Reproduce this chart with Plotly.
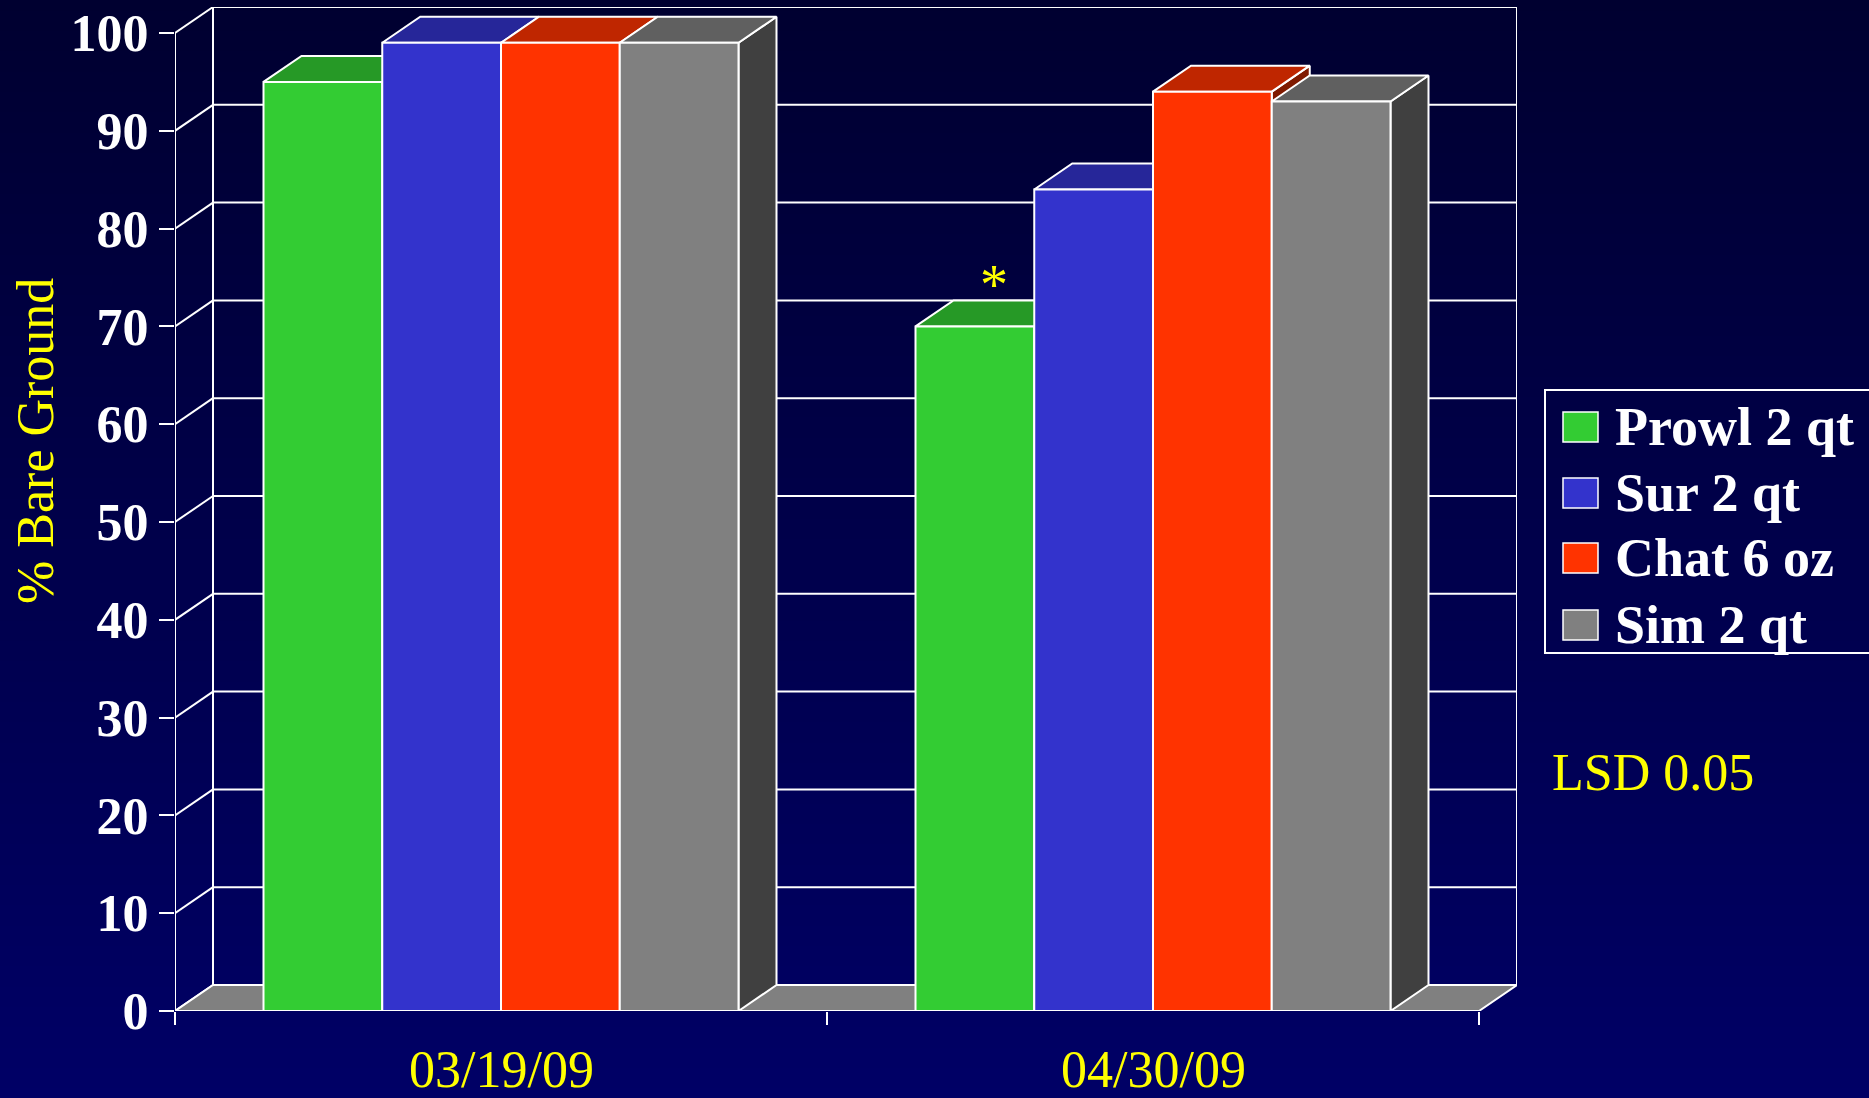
import plotly.graph_objects as go

# ---------------- data ----------------
dates = ["03/19/09", "04/30/09"]
series_names = ["Prowl 2 qt", "Sur 2 qt", "Chat 6 oz", "Sim 2 qt"]
prowl = [95, 70]
sur = [99, 84]
chat = [99, 94]
sim = [99, 93]
series_values = [prowl, sur, chat, sim]
y_ticks = [0, 10, 20, 30, 40, 50, 60, 70, 80, 90, 100]
y_title = "% Bare Ground"
note_text = "LSD 0.05"
signif = [(0, 1)]  # (series index, date index) marked with *

# ---------------- style ----------------
front_colors = ["#33CC33", "#3333CC", "#FF3300", "#808080"]
top_colors = ["#269926", "#262699", "#BF2600", "#606060"]
side_colors = ["#1A661A", "#1A1A66", "#801A00", "#404040"]
FLOOR = "#808080"
EDGE = "white"
BG_TOP = "rgb(0,0,48)"
BG_BOT = "rgb(0,0,102)"
FONT = "Liberation Serif"

W, H = 1869, 1098
XL, XR, YB, YT = 175, 1479, 1011, 33   # front plot frame in px
DPX, DPY = 38, 26                      # depth offset in px
xu = (XR - XL) / len(dates)
yu = (YB - YT) / 100.0
DX = DPX / xu
DY = DPY / yu
BW = 118.75 / xu

x_lo, x_hi = -0.5, len(dates) - 0.5
fig = go.Figure()

# background gradient (full page)
fig.add_trace(go.Heatmap(z=[[0, 0], [1, 1]], x=[0, 1], y=[0, 1], zsmooth="best",
                         colorscale=[[0, BG_BOT], [1, BG_TOP]], showscale=False,
                         hoverinfo="skip", xaxis="x", yaxis="y"))


def poly(xs, ys, fill=None, width=2):
    kw = dict(x=list(xs) + [xs[0]], y=list(ys) + [ys[0]], mode="lines",
              line=dict(color=EDGE, width=width), hoverinfo="skip",
              showlegend=False, xaxis="x2", yaxis="y2")
    if fill:
        kw.update(fill="toself", fillcolor=fill)
    fig.add_trace(go.Scatter(**kw))


def seg(xs, ys, width=2):
    fig.add_trace(go.Scatter(x=xs, y=ys, mode="lines", line=dict(color=EDGE, width=width),
                             hoverinfo="skip", showlegend=False, xaxis="x2", yaxis="y2"))


# back wall outline
poly([x_lo + DX, x_hi + DX, x_hi + DX, x_lo + DX], [DY, DY, 100 + DY, 100 + DY])
# gridlines on back wall and diagonals on side wall
for v in y_ticks:
    seg([x_lo + DX, x_hi + DX], [v + DY, v + DY])
    seg([x_lo, x_lo + DX], [v, v + DY])
# front axis line
seg([x_lo, x_lo], [0, 100])
# floor
poly([x_lo, x_hi, x_hi + DX, x_lo + DX], [0, 0, DY, DY], fill=FLOOR)

# bars
n = len(series_values)
for gi in range(len(dates)):
    for si in range(n):
        v = series_values[si][gi]
        L = gi - n * BW / 2 + si * BW
        R = L + BW
        poly([R, R, R + DX, R + DX], [0, v, v + DY, DY], fill=side_colors[si])
        poly([L, R, R + DX, L + DX], [v, v, v + DY, v + DY], fill=top_colors[si])
        poly([L, R, R, L], [0, 0, v, v], fill=front_colors[si])

annotations = []
for si, gi in signif:
    v = series_values[si][gi]
    cx = gi - n * BW / 2 + si * BW + BW / 2 + DX / 2
    annotations.append(dict(x=cx, y=v + DY + 1.6, xref="x2", yref="y2", text="*",
                            showarrow=False, yanchor="middle",
                            font=dict(family=FONT, size=56, color="yellow")))

# category labels
for gi, d in enumerate(dates):
    annotations.append(dict(x=gi, y=(H - 1069) / H, xref="x2", yref="paper", text=d,
                            showarrow=False, yanchor="middle", borderpad=0,
                            font=dict(family=FONT, size=52, color="yellow")))
# y title
annotations.append(dict(x=35 / W, y=(H - 441) / H, xref="paper", yref="paper", text=y_title,
                        textangle=-90, showarrow=False, xanchor="center", yanchor="middle",
                        font=dict(family=FONT, size=52, color="yellow")))
# LSD note
annotations.append(dict(x=1653 / W, y=(H - 773) / H, xref="paper", yref="paper", text=note_text,
                        showarrow=False, xanchor="center", yanchor="middle",
                        font=dict(family=FONT, size=52, color="yellow")))

# custom legend
shapes = [dict(type="rect", xref="paper", yref="paper", x0=1545 / W, x1=1890 / W,
               y0=(H - 653) / H, y1=(H - 390) / H, line=dict(color="white", width=2),
               fillcolor="rgba(0,0,0,0)")]
leg_tops = [412, 478, 543, 610]
for si, name in enumerate(series_names):
    t = leg_tops[si]
    shapes.append(dict(type="rect", xref="paper", yref="paper", x0=1563 / W, x1=1598 / W,
                       y0=(H - t - 30) / H, y1=(H - t) / H,
                       line=dict(color="white", width=1.5), fillcolor=front_colors[si]))
    annotations.append(dict(x=1613 / W, y=(H - t - 15) / H, xref="paper", yref="paper",
                            text=name, showarrow=False, xanchor="left", yanchor="middle",
                            font=dict(family=FONT, size=54, color="white", weight="bold")))

fig.update_layout(
    width=W, height=H, autosize=False, margin=dict(l=0, r=0, t=0, b=0, pad=0),
    paper_bgcolor=BG_BOT, plot_bgcolor="rgba(0,0,0,0)", showlegend=False,
    xaxis=dict(domain=[0, 1], range=[0, 1], visible=False, fixedrange=True, automargin=False),
    yaxis=dict(domain=[0, 1], range=[0, 1], visible=False, fixedrange=True, automargin=False),
    xaxis2=dict(domain=[XL / W, (XR + DPX) / W], anchor="y2", range=[x_lo, x_hi + DX],
                tickvals=[x_lo + i for i in range(len(dates) + 1)], ticks="outside", ticklen=13,
                tickwidth=2, tickcolor="white", showticklabels=False, showgrid=False,
                zeroline=False, showline=False, automargin=False),
    yaxis2=dict(domain=[(H - YB) / H, (H - (YT - DPY)) / H], anchor="x2", range=[0, 100 + DY],
                tickvals=y_ticks, ticks="outside", ticklen=15, tickwidth=2, tickcolor="white",
                showgrid=False, zeroline=False, showline=False, automargin=False,
                tickfont=dict(family=FONT, size=52, color="white", weight="bold")),
    annotations=annotations, shapes=shapes,
)

fig.write_html("out.html", config={"displayModeBar": False, "responsive": False},
               post_script="document.body.style.margin='0';"
                           "document.body.style.background='rgb(0,0,102)';")
